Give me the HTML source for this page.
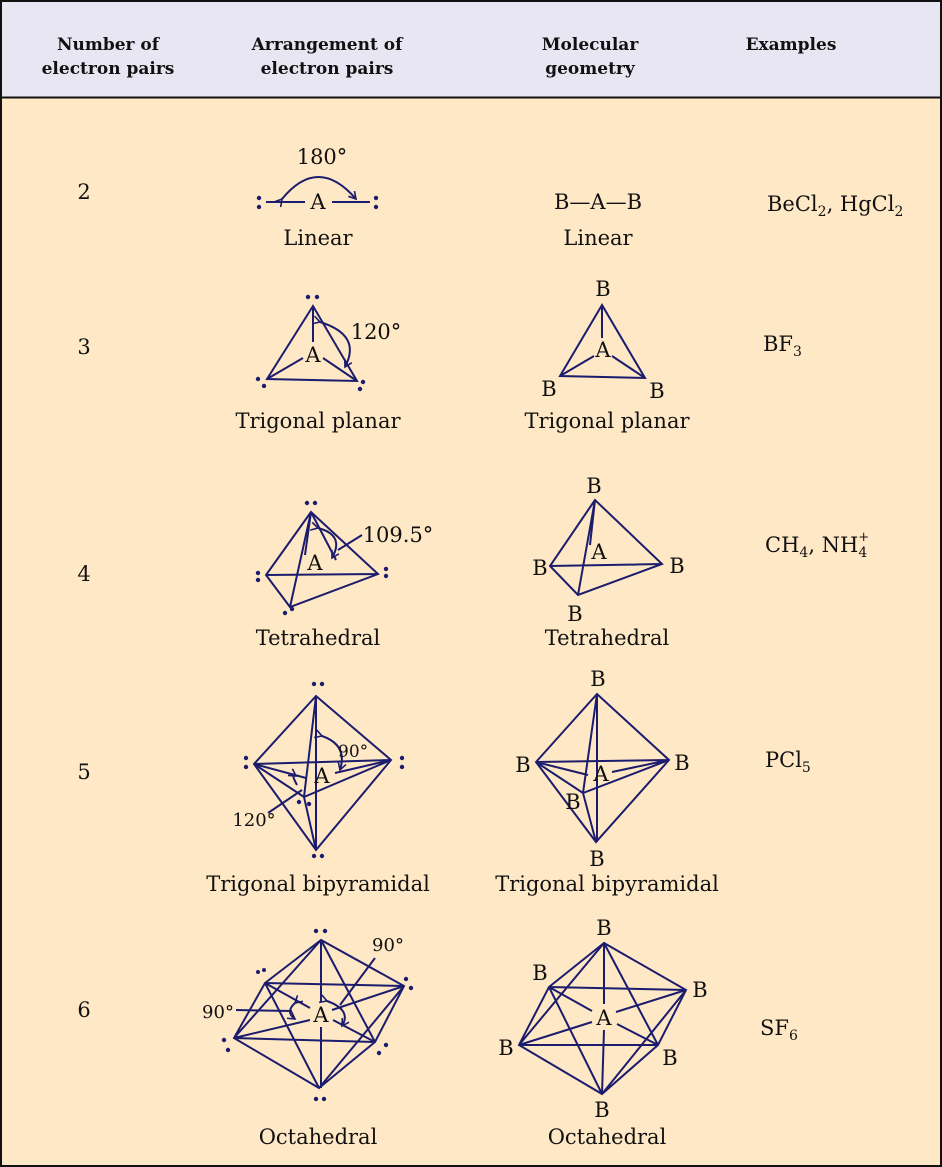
<!DOCTYPE html>
<html><head><meta charset="utf-8"><style>
html,body{margin:0;padding:0;background:#fff;}
svg{display:block;}
text{font-family:"DejaVu Serif","Liberation Serif",serif;fill:#111;}
.h{font-weight:bold;font-size:17px;text-anchor:middle;}
.t{font-size:21px;text-anchor:middle;}
.s{font-size:21px;text-anchor:start;}
.l{stroke:#1c1c6e;stroke-width:2;fill:none;}
.d{fill:#1c1c6e;}
</style></head><body>
<svg width="942" height="1167" viewBox="0 0 942 1167">
<defs><marker id="ar" markerWidth="10" markerHeight="10" refX="8" refY="5" orient="auto" markerUnits="userSpaceOnUse"><path d="M1,1 L8,5 L1,9" fill="none" stroke="#1c1c6e" stroke-width="1.6"/></marker></defs>
<rect x="1" y="1" width="940" height="1165" fill="#fee8c5" stroke="#111" stroke-width="2"/>
<rect x="2" y="2" width="938" height="95" fill="#e8e6f3"/>
<line x1="1" y1="97.5" x2="941" y2="97.5" stroke="#111" stroke-width="2"/>
<text class="h" x="108" y="50">Number of</text><text class="h" x="108" y="74">electron pairs</text>
<text class="h" x="327" y="50">Arrangement of</text><text class="h" x="327" y="74">electron pairs</text>
<text class="h" x="590" y="50">Molecular</text><text class="h" x="590" y="74">geometry</text>
<text class="h" x="791" y="50">Examples</text>

<text class="t" x="84" y="199">2</text>
<text class="t" x="84" y="354">3</text>
<text class="t" x="84" y="581">4</text>
<text class="t" x="84" y="779">5</text>
<text class="t" x="84" y="1017">6</text>

<!-- row 2 -->
<text class="t" x="322" y="164">180°</text>
<g class="d"><circle cx="259" cy="198" r="2.2"/><circle cx="259" cy="207" r="2.2"/><circle cx="376" cy="198" r="2.2"/><circle cx="376" cy="207" r="2.2"/></g>
<line class="l" x1="266" y1="202" x2="305" y2="202"/><line class="l" x1="332" y1="202" x2="370" y2="202"/>
<path class="l" d="M282,199 Q318,155 356,199" marker-start="url(#ar)" marker-end="url(#ar)"/>
<text class="t" x="318" y="209">A</text>
<text class="t" x="318" y="245">Linear</text>
<text class="t" x="598" y="209">B—A—B</text>
<text class="t" x="598" y="245">Linear</text>
<text class="s" x="767" y="211">BeCl<tspan font-size="14" dy="5">2</tspan><tspan dy="-5">, HgCl</tspan><tspan font-size="14" dy="5">2</tspan></text>

<!-- row 3 -->
<g class="d"><circle cx="308" cy="297" r="2.2"/><circle cx="317" cy="297" r="2.2"/><circle cx="258" cy="379" r="2.2"/><circle cx="264" cy="386" r="2.2"/><circle cx="363" cy="382" r="2.2"/><circle cx="360" cy="389" r="2.2"/></g>
<path class="l" d="M313,306 L267,379 L357,381 Z"/>
<line class="l" x1="313" y1="306" x2="313" y2="342"/>
<line class="l" x1="267" y1="379" x2="303" y2="358"/><line class="l" x1="357" y1="381" x2="323" y2="358"/>
<path class="l" d="M320,322 Q362,335 345,367" marker-start="url(#ar)" marker-end="url(#ar)"/>
<text class="t" x="376" y="339">120°</text>
<text class="t" x="313" y="362">A</text>
<text class="t" x="318" y="428">Trigonal planar</text>
<path class="l" d="M602,305 L560,376 L645,378 Z"/>
<line class="l" x1="602" y1="305" x2="602" y2="338"/><line class="l" x1="560" y1="376" x2="594" y2="356"/><line class="l" x1="645" y1="378" x2="612" y2="356"/>
<text class="t" x="603" y="296">B</text><text class="t" x="549" y="396">B</text><text class="t" x="657" y="398">B</text><text class="t" x="603" y="357">A</text>
<text class="t" x="607" y="428">Trigonal planar</text>
<text class="s" x="763" y="351">BF<tspan font-size="14" dy="5">3</tspan></text>

<!-- row 4 -->
<g class="d"><circle cx="307" cy="503" r="2.2"/><circle cx="315" cy="503" r="2.2"/><circle cx="258" cy="573" r="2.2"/><circle cx="258" cy="580" r="2.2"/><circle cx="386" cy="569" r="2.2"/><circle cx="386" cy="576" r="2.2"/><circle cx="285" cy="613" r="2.2"/><circle cx="292" cy="609" r="2.2"/></g>
<path class="l" d="M311,512 L266,575 L290,607 L378,574 Z M266,575 L378,574 M311,512 L290,607"/>
<path class="l" d="M311,512 L305,555 M311,512 L336,560"/>
<path class="l" d="M318,528 Q345,535 332,558" marker-start="url(#ar)" marker-end="url(#ar)"/>
<line class="l" x1="338" y1="550" x2="362" y2="535"/>
<text class="t" x="398" y="542">109.5°</text>
<text class="t" x="315" y="570">A</text>
<text class="t" x="318" y="645">Tetrahedral</text>
<path class="l" d="M595,500 L550,566 L578,595 L662,564 Z M550,566 L662,564 M595,500 L578,595 M595,500 L590,545"/>
<text class="t" x="594" y="493">B</text><text class="t" x="540" y="575">B</text><text class="t" x="677" y="573">B</text><text class="t" x="575" y="621">B</text><text class="t" x="599" y="559">A</text>
<text class="t" x="607" y="645">Tetrahedral</text>
<text class="s" x="765" y="552">CH<tspan font-size="14" dy="5">4</tspan><tspan dy="-5">, NH</tspan><tspan font-size="14" dy="5">4</tspan><tspan font-size="13" dx="-9" dy="-16">+</tspan></text>

<!-- row 5 -->
<g class="d"><circle cx="314" cy="684" r="2.2"/><circle cx="322" cy="684" r="2.2"/><circle cx="314" cy="856" r="2.2"/><circle cx="322" cy="856" r="2.2"/><circle cx="246" cy="758" r="2.2"/><circle cx="246" cy="767" r="2.2"/><circle cx="402" cy="758" r="2.2"/><circle cx="402" cy="767" r="2.2"/><circle cx="299" cy="802" r="2.2"/><circle cx="309" cy="804" r="2.2"/></g>
<path class="l" d="M316,696 L254,764 L316,850 L391,760 Z M254,764 L391,760 M316,696 L304,797 L316,850 M254,764 L304,797 L391,760 M316,696 L316,850"/>
<path class="l" d="M254,764 L306,778 M391,760 L335,773"/>
<path class="l" d="M322,736 Q348,745 340,770" marker-start="url(#ar)" marker-end="url(#ar)"/>
<text x="338" y="757" style="font-size:17px">90°</text>
<path class="l" d="M297,785 Q290,772 296,776" marker-end="url(#ar)"/>
<line class="l" x1="268" y1="813" x2="302" y2="790"/>
<text class="t" x="254" y="826" style="font-size:18px">120°</text>
<text class="t" x="322" y="783">A</text>
<text class="t" x="318" y="891">Trigonal bipyramidal</text>
<path class="l" d="M597,694 L536,762 L596,842 L669,760 Z M536,762 L669,760 M597,694 L583,793 L596,842 M536,762 L583,793 L669,760 M597,694 L597,842 M536,762 L588,775 M669,760 L612,772"/>
<text class="t" x="598" y="686">B</text><text class="t" x="523" y="772">B</text><text class="t" x="682" y="770">B</text><text class="t" x="573" y="809">B</text><text class="t" x="597" y="866">B</text><text class="t" x="601" y="781">A</text>
<text class="t" x="607" y="891">Trigonal bipyramidal</text>
<text class="s" x="765" y="767">PCl<tspan font-size="14" dy="5">5</tspan></text>

<!-- row 6 -->
<g class="d"><circle cx="316" cy="931" r="2.2"/><circle cx="325" cy="931" r="2.2"/><circle cx="316" cy="1099" r="2.2"/><circle cx="324" cy="1099" r="2.2"/><circle cx="258" cy="972" r="2"/><circle cx="264" cy="970" r="2"/><circle cx="406" cy="979" r="2.2"/><circle cx="411" cy="988" r="2.2"/><circle cx="224" cy="1040" r="2.2"/><circle cx="228" cy="1050" r="2.2"/><circle cx="379" cy="1053" r="2.2"/><circle cx="386" cy="1045" r="2.2"/></g>
<path class="l" d="M321,940 L265,983 L234,1038 L319,1088 L375,1042 L404,986 Z M265,983 L404,986 M234,1038 L375,1042 M321,940 L234,1038 M321,940 L375,1042 M265,983 L319,1088 M404,986 L319,1088 M321,940 L321,1002 M321,1027 L321,1088 M265,983 L310,1008 M375,1042 L333,1020 M404,986 L332,1010 M234,1038 L310,1020"/>
<path class="l" d="M327,1001 Q352,1010 342,1026" marker-start="url(#ar)" marker-end="url(#ar)"/>
<line class="l" x1="340" y1="1005" x2="375" y2="958"/>
<text class="t" x="388" y="951" style="font-size:18px">90°</text>
<path class="l" d="M295,1003 Q285,1012 295,1019" marker-start="url(#ar)" marker-end="url(#ar)"/>
<line class="l" x1="236" y1="1010" x2="292" y2="1011"/>
<text class="t" x="218" y="1018" style="font-size:18px">90°</text>
<text class="t" x="321" y="1022">A</text>
<text class="t" x="318" y="1144">Octahedral</text>
<path class="l" d="M604,943 L549,987 L519,1045 L602,1094 L658,1045 L686,990 Z M549,987 L686,990 M519,1045 L658,1045 M604,943 L519,1045 M604,943 L658,1045 M549,987 L602,1094 M686,990 L602,1094 M604,943 L604,1004 M604,1030 L602,1094 M549,987 L592,1011 M658,1045 L617,1024 M686,990 L616,1012 M519,1045 L592,1022"/>
<text class="t" x="604" y="935">B</text><text class="t" x="540" y="980">B</text><text class="t" x="700" y="997">B</text><text class="t" x="506" y="1055">B</text><text class="t" x="670" y="1065">B</text><text class="t" x="602" y="1117">B</text><text class="t" x="604" y="1025">A</text>
<text class="t" x="607" y="1144">Octahedral</text>
<text class="s" x="760" y="1035">SF<tspan font-size="14" dy="5">6</tspan></text>
</svg>
</body></html>
